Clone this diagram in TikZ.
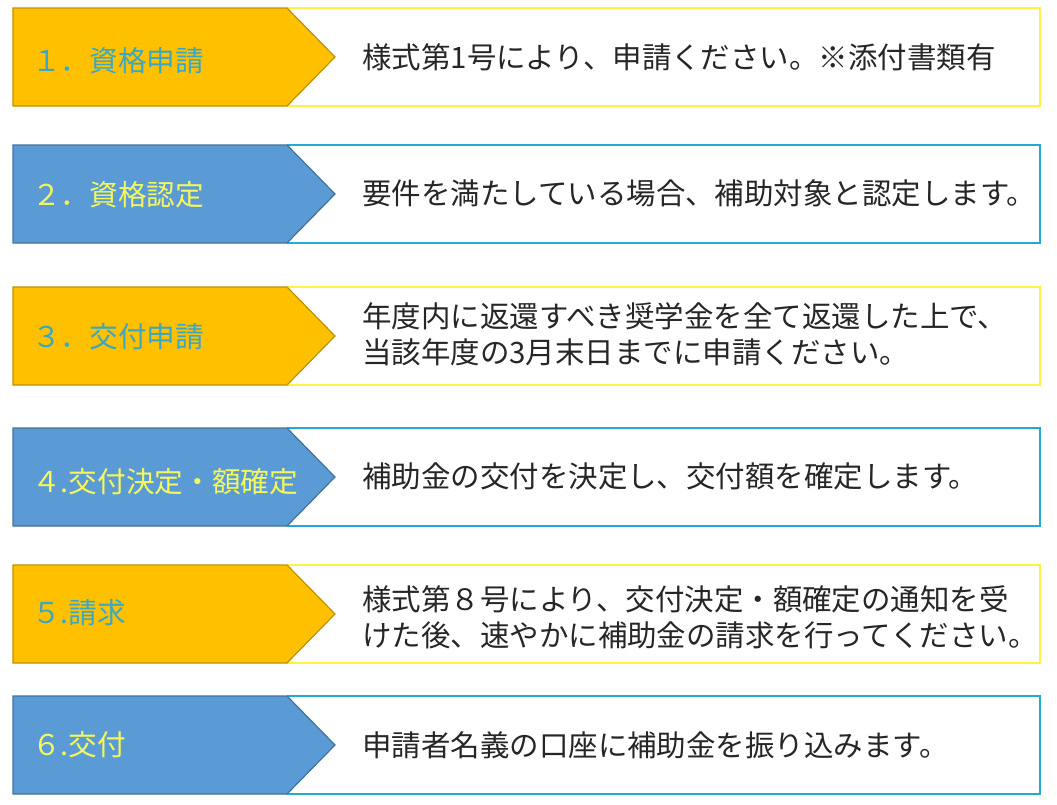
\documentclass[tikz,border=0pt]{standalone}
\usepackage{fontspec}
\newfontfamily\jpfont{Noto Sans CJK JP}
\definecolor{tabOrange}{HTML}{FFC000}
\definecolor{tabOrangeEdge}{HTML}{BF9000}
\definecolor{tabBlue}{HTML}{5B9BD5}
\definecolor{tabBlueEdge}{HTML}{41719C}
\definecolor{boxYellow}{HTML}{FFF245}
\definecolor{boxCyan}{HTML}{25A8D8}
\definecolor{labelTeal}{HTML}{3AA8C4}
\definecolor{labelYellow}{HTML}{F5F75C}
\definecolor{descGray}{HTML}{262626}

\begin{document}
\begin{tikzpicture}[x=0.75pt, y=-0.75pt,
  orangetab/.style={fill=tabOrange, draw=tabOrangeEdge, line width=0.9pt},
  bluetab/.style={fill=tabBlue, draw=tabBlueEdge, line width=0.9pt},
  yellowbox/.style={draw=boxYellow, line width=2pt},
  cyanbox/.style={draw=boxCyan, line width=2pt},
  tablabel/.style={anchor=west, inner sep=0pt, font=\jpfont\fontsize{21.5}{27}\selectfont},
  desc/.style={anchor=west, inner sep=0pt, align=left, text=descGray,
               font=\jpfont\fontsize{22.1}{27}\selectfont}]
  \useasboundingbox (0,0) rectangle (1057,804);

  % 1. application for eligibility
  \draw[yellowbox] (287,8) -- (1040,8) -- (1040,106) -- (287,106);
  \filldraw[orangetab] (13,8) -- (287,8) -- (335,57) -- (287,106) -- (13,106) -- cycle;
  \node[tablabel, text=labelTeal] (tab1) at (32,61) {１．資格申請};
  \node[desc] (desc1) at (362,57) {様式第1号により、申請ください。※添付書類有};

  % 2. eligibility approval
  \draw[cyanbox] (287,145) -- (1040,145) -- (1040,243) -- (287,243);
  \filldraw[bluetab] (13,145) -- (287,145) -- (335,194) -- (287,243) -- (13,243) -- cycle;
  \node[tablabel, text=labelYellow] (tab2) at (32,195) {２．資格認定};
  \node[desc] (desc2) at (362,193) {要件を満たしている場合、補助対象と認定します。};

  % 3. grant application
  \draw[yellowbox] (287,287) -- (1040,287) -- (1040,385) -- (287,385);
  \filldraw[orangetab] (13,287) -- (287,287) -- (335,336) -- (287,385) -- (13,385) -- cycle;
  \node[tablabel, text=labelTeal] (tab3) at (32,337) {３．交付申請};
  \node[desc] (desc3) at (362,334) {年度内に返還すべき奨学金を全て返還した上で、\\当該年度の3月末日までに申請ください。};

  % 4. decision and amount
  \draw[cyanbox] (287,428) -- (1040,428) -- (1040,526) -- (287,526);
  \filldraw[bluetab] (13,428) -- (287,428) -- (335,477) -- (287,526) -- (13,526) -- cycle;
  \node[tablabel, text=labelYellow] (tab4) at (32,482) {４.交付決定・額確定};
  \node[desc] (desc4) at (362,476) {補助金の交付を決定し、交付額を確定します。};

  % 5. claim
  \draw[yellowbox] (287,565) -- (1040,565) -- (1040,663) -- (287,663);
  \filldraw[orangetab] (13,565) -- (287,565) -- (335,614) -- (287,663) -- (13,663) -- cycle;
  \node[tablabel, text=labelTeal] (tab5) at (32,613) {５.請求};
  \node[desc] (desc5) at (362,617) {様式第８号により、交付決定・額確定の通知を受\\けた後、速やかに補助金の請求を行ってください。};

  % 6. payment
  \draw[cyanbox] (287,696) -- (1040,696) -- (1040,794) -- (287,794);
  \filldraw[bluetab] (13,696) -- (287,696) -- (335,745) -- (287,794) -- (13,794) -- cycle;
  \node[tablabel, text=labelYellow] (tab6) at (32,745) {６.交付};
  \node[desc] (desc6) at (362,745) {申請者名義の口座に補助金を振り込みます。};
\end{tikzpicture}
\end{document}
